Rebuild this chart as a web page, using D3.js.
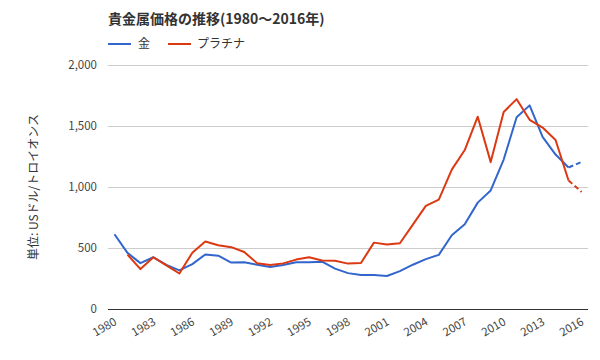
<!DOCTYPE html>
<html><head><meta charset="utf-8">
<script src="https://cdn.jsdelivr.net/npm/d3@7"></script>
<style>body{margin:0;background:#fff;} text{font-family:"Noto Sans CJK JP","Noto Sans",sans-serif;}</style>
</head><body><svg id="c" width="600" height="360"></svg>
<script>
const years = d3.range(1980, 2017);
const gold = [613,460,376,424,361,317,368,447,437,381,383,362,344,360,384,384,388,331,294,279,279,271,310,363,409,444,604,695,872,972,1225,1572,1669,1411,1266,1160,1205];
const platinum = [null,446,327,424,357,291,461,553,523,507,467,375,360,374,405,424,397,395,372,377,544,529,539,691,845,896,1142,1303,1576,1204,1615,1720,1551,1487,1385,1053,960];
const estimatedFrom = 2015; // segment after this year is dashed
const yTicks = [0,500,1000,1500,2000];
const xTickYears = [1980,1983,1986,1989,1992,1995,1998,2001,2004,2007,2010,2013,2016];
const seriesNames = ["金","プラチナ"];
const colors = ["#3366cc","#dc3912"];
const title = "貴金属価格の推移(1980～2016年)";
const yTitle = "単位: USドル/トロイオンス";

const svg = d3.select("#c");
const L=108,R=588,T=65,B=309;
const x = d3.scalePoint().domain(years).range([L,R]).padding(0.5);
const y = d3.scaleLinear().domain([0,2000]).range([B,T]);

// gridlines
svg.append("g").selectAll("line").data(yTicks.filter(d=>d>0)).join("line")
  .attr("x1",L).attr("x2",R).attr("y1",d=>y(d)).attr("y2",d=>y(d))
  .attr("stroke","#cccccc").attr("stroke-width",1).attr("shape-rendering","crispEdges");
// y labels
svg.append("g").selectAll("text").data(yTicks).join("text")
  .attr("x",L-11).attr("y",d=>y(d)+4).attr("text-anchor","end")
  .attr("font-size",11.5).attr("fill","#444").text(d=>d3.format(",")(d));
// baseline
svg.append("line").attr("x1",L).attr("x2",R).attr("y1",y(0)).attr("y2",y(0))
  .attr("stroke","#333").attr("stroke-width",1).attr("shape-rendering","crispEdges");
// x labels
svg.append("g").selectAll("text").data(xTickYears).join("text")
  .attr("transform",d=>`translate(${x(d)+3},${B+15}) rotate(-30)`)
  .attr("text-anchor","end").attr("font-size",11.5).attr("fill","#444").text(d=>d);

// lines
const series=[gold,platinum];
series.forEach((vals,i)=>{
  const pts = years.map((yr,j)=>({yr,v:vals[j]})).filter(p=>p.v!=null);
  const solid = pts.filter(p=>p.yr<=estimatedFrom);
  const dashed = pts.filter(p=>p.yr>=estimatedFrom);
  const line = d3.line().x(p=>x(p.yr)).y(p=>y(p.v));
  svg.append("path").attr("d",line(solid)).attr("fill","none").attr("stroke",colors[i]).attr("stroke-width",2).attr("stroke-linejoin","round");
  svg.append("path").attr("d",line(dashed)).attr("fill","none").attr("stroke",colors[i]).attr("stroke-width",2).attr("stroke-dasharray","5,3");
});

// title
svg.append("text").attr("x",L).attr("y",24).attr("font-size",14).attr("font-weight","bold").attr("fill","#333").text(title);
// legend
const lg=[{x:L,tx:L+30},{x:168,tx:197}];
seriesNames.forEach((n,i)=>{
  svg.append("line").attr("x1",lg[i].x).attr("x2",lg[i].x+23).attr("y1",44).attr("y2",44).attr("stroke",colors[i]).attr("stroke-width",2);
  svg.append("text").attr("x",lg[i].tx).attr("y",48).attr("font-size",12).attr("fill","#333").text(n);
});
// y title
svg.append("text").attr("transform",`translate(38,${(T+B)/2}) rotate(-90)`).attr("text-anchor","middle")
  .attr("font-size",12).attr("fill","#333").text(yTitle);
</script></body></html>
